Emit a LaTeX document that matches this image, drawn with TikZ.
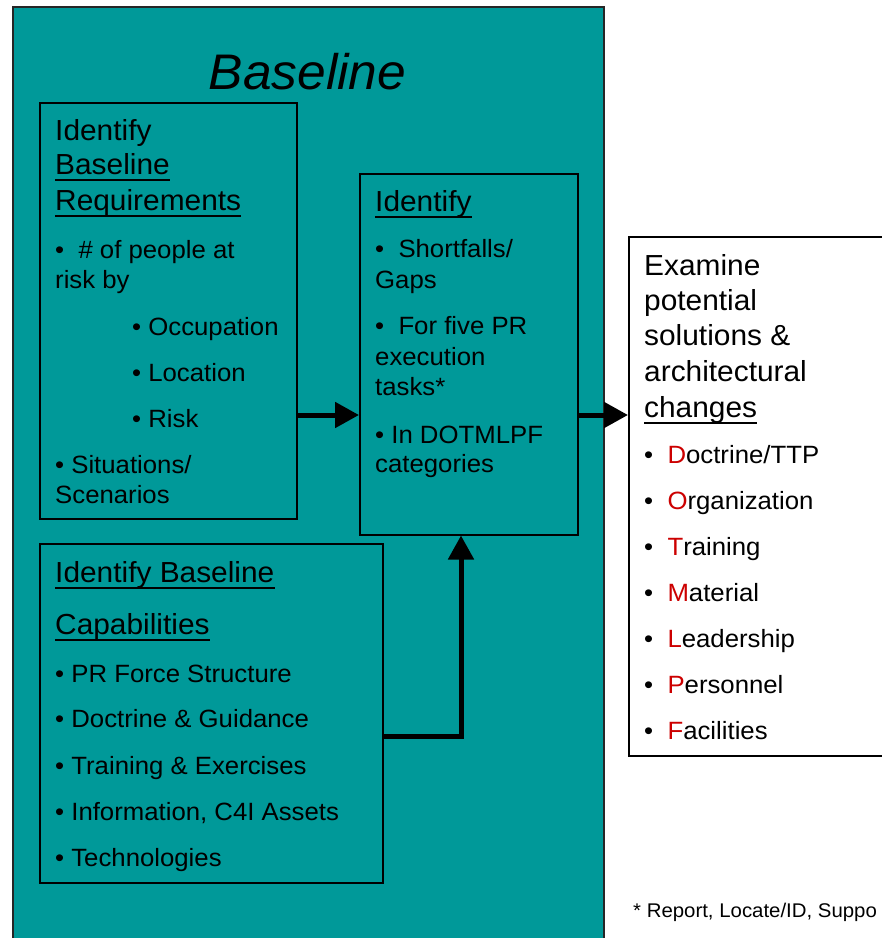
\documentclass[tikz,border=0pt]{standalone}
\usepackage{fontspec}
\setmainfont[FakeStretch=1.03]{Liberation Sans}
\usetikzlibrary{arrows.meta}
\definecolor{baseteal}{HTML}{009999}
\definecolor{dotred}{HTML}{CC0000}

\begin{document}
\begin{tikzpicture}[x=1pt, y=-1pt,
    panel/.style={draw=black, line width=1.5pt, anchor=north west, inner sep=0pt},
    txt/.style={anchor=base west, inner sep=0pt, font=\fontsize{25}{30}\selectfont},
    head/.style={txt, font=\fontsize{29}{35}\selectfont},
    uline/.style={line width=2pt},
    flow/.style={line width=5pt, -{Triangle[length=24pt, width=25pt]}}]

    % 1. Page frame
    \useasboundingbox (0,0) rectangle (882,938);
    \clip (0,0) rectangle (882,938);

    % 2. Panels
    \node[panel, draw=black!85, fill=baseteal, minimum width=591pt, minimum height=960pt] (base) at (12,6) {};
    \node[panel, fill=white, minimum width=300pt, minimum height=519pt] (exam) at (628,236) {};
    \node[panel, minimum width=257pt, minimum height=416pt] (req) at (39,102) {};
    \node[panel, minimum width=218pt, minimum height=361pt] (gap) at (359,173) {};
    \node[panel, minimum width=343pt, minimum height=339pt] (cap) at (39,543) {};

    \node[anchor=base, inner sep=0pt, font=\fontsize{50}{60}\selectfont\itshape] (title) at (307.5,89) {Baseline};

    % 3. Requirements panel
    \node[head] (reqh1) at (55,140) {Identify};
    \node[head] (reqh2) at (55,174) {Baseline};
    \node[head] (reqh3) at (55,210) {Requirements};
    \node[txt] (req1) at (55,258) {\textbullet\ \ \# of people at};
    \node[txt] (req2) at (55,288) {risk by};
    \node[txt] (req3) at (132,335) {\textbullet\ Occupation};
    \node[txt] (req4) at (132,381) {\textbullet\ Location};
    \node[txt] (req5) at (132,427) {\textbullet\ Risk};
    \node[txt] (req6) at (55,473) {\textbullet\ Situations/};
    \node[txt] (req7) at (55,503) {Scenarios};

    % 4. Shortfall panel
    \node[head] (gaph1) at (375,211) {Identify};
    \node[txt] (gap1) at (375,257) {\textbullet\ \ Shortfalls/};
    \node[txt] (gap2) at (375,288) {Gaps};
    \node[txt] (gap3) at (375,334) {\textbullet\ \ For five PR};
    \node[txt] (gap4) at (375,365) {execution};
    \node[txt] (gap5) at (375,395) {tasks*};
    \node[txt] (gap6) at (375,443) {\textbullet\ In DOTMLPF};
    \node[txt] (gap7) at (375,472) {categories};

    % 5. Capabilities panel
    \node[head] (caph1) at (55,582) {Identify Baseline};
    \node[head] (caph2) at (55,634) {Capabilities};
    \foreach \y/\t [count=\i] in {682/PR Force Structure, 727/Doctrine \& Guidance,
        774/Training \& Exercises, 820/{Information, C4I Assets}, 866/Technologies}
        \node[txt] (cap\i) at (55,\y) {\textbullet\ \t};

    % 6. Solutions panel
    \node[head] (examh1) at (644,275) {Examine};
    \node[head] (examh2) at (644,310) {potential};
    \node[head] (examh3) at (644,345) {solutions \&};
    \node[head] (examh4) at (644,381) {architectural};
    \node[head] (examh5) at (644,417) {changes};
    \foreach \y/\c/\t [count=\i] in {463/D/octrine\slash TTP, 509/O/rganization, 555/T/raining,
        601/M/aterial, 647/L/eadership, 693/P/ersonnel, 739/F/acilities}
        \node[txt] (dot\i) at (644,\y) {\textbullet\ \ \textcolor{dotred}{\c}\t};

    % underlined headings
    \foreach \nm in {reqh2, reqh3, gaph1, caph1, caph2, examh5}
        \draw[uline] ([yshift=-6pt]\nm.base west) -- ([yshift=-6pt]\nm.base east);

    \node[anchor=base west, inner sep=0pt, font=\fontsize{19.8}{24}\selectfont] (note) at (633,917) {* Report, Locate/ID, Suppo};

    % 7. Arrows
    \coordinate (lvl) at (0,415);
    \coordinate (bend) at (461,736);
    \draw[flow] (req.east |- lvl) -- (gap.west |- lvl);
    \draw[flow] (gap.east |- lvl) -- (exam.west |- lvl);
    \draw[flow] (cap.east |- bend) -- (bend) -- (bend |- gap.south);

\end{tikzpicture}
\end{document}
